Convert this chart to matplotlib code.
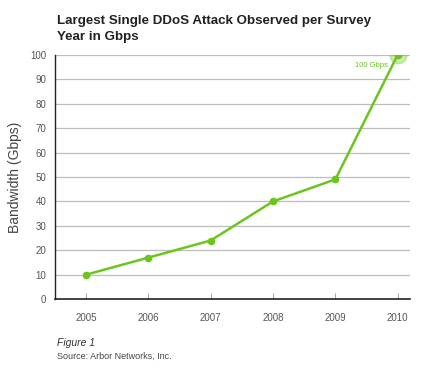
import matplotlib
matplotlib.use("Agg")
import matplotlib.pyplot as plt

years = [2005, 2006, 2007, 2008, 2009, 2010]
bandwidth = [10, 17, 24, 40, 49, 100]
yticks = [0, 10, 20, 30, 40, 50, 60, 70, 80, 90, 100]
title = "Largest Single DDoS Attack Observed per Survey\nYear in Gbps"
annot = "100 Gbps"

plt.rcParams['font.family'] = ['Liberation Sans', 'DejaVu Sans']
green = '#6cc51f'

fig = plt.figure(figsize=(4.25, 3.89), dpi=100)
ax = fig.add_axes([0.129, 0.231, 0.836, 0.628])

for y in yticks[1:]:
    ax.axhline(y, color='#bdbdbd', lw=0.9, zorder=1)

ax.plot(years, bandwidth, color=green, lw=1.8, marker='o', ms=4.5, zorder=3)
ax.plot(years[-1], bandwidth[-1], 'o', ms=12, color=green, alpha=0.35, zorder=2)
ax.text(years[-1] - 0.15, bandwidth[-1] - 4.5, annot, color=green, fontsize=5.5,
        ha='right', va='center')

ax.set_xlim(2004.5, 2010.2)
ax.set_ylim(0, 100)
ax.set_xticks(years)
ax.set_yticks(yticks)
ax.tick_params(axis='x', direction='in', length=4, color='#aaaaaa', labelsize=7,
               labelcolor='#555555', pad=10)
ax.tick_params(axis='y', length=0, labelsize=7, labelcolor='#555555', pad=6)
for s in ['top', 'right']:
    ax.spines[s].set_visible(False)
ax.spines['left'].set_color('#222222')
ax.spines['bottom'].set_color('#222222')
ax.spines['left'].set_linewidth(1.0)
ax.spines['bottom'].set_linewidth(1.2)
ax.set_ylabel('Bandwidth (Gbps)', fontsize=10, color='#444444', labelpad=6)

fig.text(57/425, 1 - 29/389, title, fontsize=9.6, fontweight='bold', color='#222222',
         ha='left', va='center', linespacing=1.35)
fig.text(57/425, 1 - 343/389, 'Figure 1', fontsize=7.5, style='italic', color='#333333',
         ha='left', va='center')
fig.text(57/425, 1 - 356/389, 'Source: Arbor Networks, Inc.', fontsize=6.5, color='#444444',
         ha='left', va='center')

fig.savefig('out.png', dpi=100)
